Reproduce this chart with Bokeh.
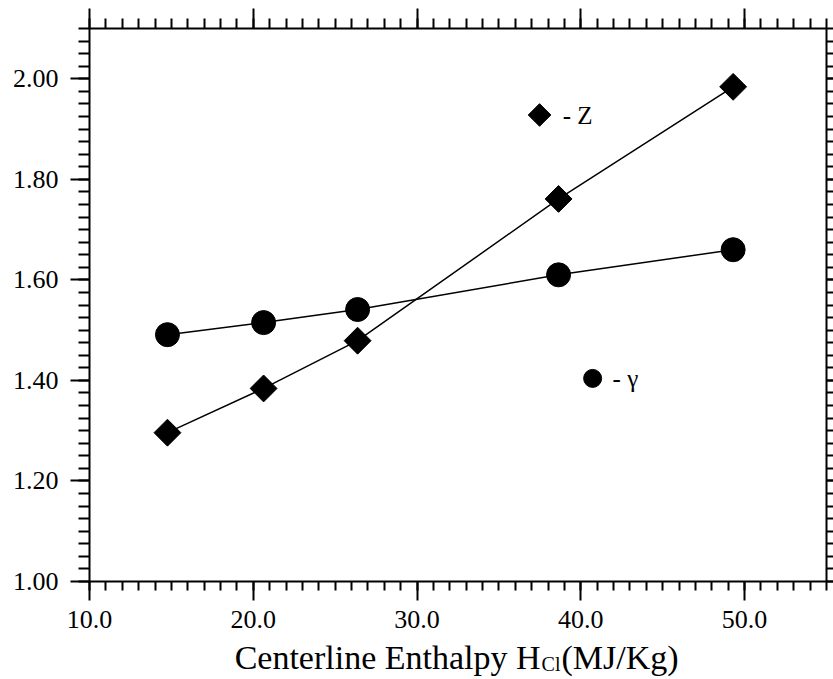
import numpy as np
from bokeh.plotting import figure
from bokeh.layouts import column
from bokeh.models import (LinearAxis, SingleIntervalTicker, PrintfTickFormatter,
                          Range1d, Label, ColumnDataSource)
from bokeh.embed import file_html
from bokeh.resources import INLINE

# ---- data ----
enthalpy = [14.76, 20.63, 26.37, 38.64, 49.30]
z_values = [1.296, 1.384, 1.479, 1.761, 1.984]
gamma_values = [1.491, 1.515, 1.541, 1.610, 1.660]

# in-plot key
key_z_marker = (37.48, 1.928)
key_z_text = (38.89, 1.926, "- Z")
key_g_marker = (40.72, 1.404)
key_g_text = (41.94, 1.404, "- \u03b3")

title_main = "Centerline Enthalpy H"
title_sub = "Cl"
title_unit = "(MJ/Kg)"
title_x = 37.54

FONT = "Times New Roman"

p = figure(width=833, height=640, output_backend="svg", toolbar_location=None,
           x_range=Range1d(10, 55), y_range=Range1d(1.0, 2.1),
           min_border_left=89, min_border_right=7, min_border_top=28,
           min_border_bottom=59, background_fill_color="white",
           border_fill_color="white", outline_line_color=None)
p.xgrid.visible = False
p.ygrid.visible = False

def style_axis(ax, ticker, tick_out, minor_out, labels=True):
    ax.ticker = ticker
    ax.axis_line_width = 2
    ax.axis_line_color = "black"
    ax.major_tick_line_width = 2
    ax.minor_tick_line_width = 2
    ax.major_tick_line_color = "black"
    ax.minor_tick_line_color = "black"
    ax.major_tick_in = 0
    ax.minor_tick_in = 0
    ax.major_tick_out = tick_out
    ax.minor_tick_out = minor_out
    ax.major_label_text_font = FONT
    ax.major_label_text_font_size = "26px"
    ax.major_label_text_color = "black"
    if not labels:
        ax.formatter = PrintfTickFormatter(format="")
        ax.major_label_standoff = 0

bx = p.xaxis[0]
style_axis(bx, SingleIntervalTicker(interval=10, num_minor_ticks=10), 19, 9)
bx.formatter = PrintfTickFormatter(format="%.1f")
bx.major_label_standoff = 10

ly = p.yaxis[0]
style_axis(ly, SingleIntervalTicker(interval=0.2, num_minor_ticks=8), 19, 11)
ly.formatter = PrintfTickFormatter(format="%.2f")
ly.major_label_standoff = 12

top = LinearAxis()
style_axis(top, SingleIntervalTicker(interval=10, num_minor_ticks=10), 20, 10, labels=False)
p.add_layout(top, "above")

right = LinearAxis()
style_axis(right, SingleIntervalTicker(interval=0.2, num_minor_ticks=8), 7, 7, labels=False)
p.add_layout(right, "right")

src = ColumnDataSource(dict(x=enthalpy, z=z_values, g=gamma_values))

p.line("x", "z", source=src, line_color="black", line_width=1.5)
p.line("x", "g", source=src, line_color="black", line_width=1.5)
p.scatter("x", "z", source=src, marker="square", angle=np.pi / 4, size=19,
          fill_color="black", line_color="black")
p.scatter("x", "g", source=src, marker="circle", size=24,
          fill_color="black", line_color="black")

# key
p.scatter([key_z_marker[0]], [key_z_marker[1]], marker="square", angle=np.pi / 4,
          size=16, fill_color="black", line_color="black")
p.scatter([key_g_marker[0]], [key_g_marker[1]], marker="circle", size=18,
          fill_color="black", line_color="black")
for (tx, ty, tt) in (key_z_text, key_g_text):
    p.add_layout(Label(x=tx, y=ty, text=tt, text_font=FONT, text_font_size="25px",
                       text_baseline="middle", text_align="left", text_color="black"))

# ---- axis title strip (shares the x range so positions line up) ----
t = figure(width=833, height=39, output_backend="svg", toolbar_location=None,
           x_range=p.x_range, y_range=Range1d(0, 39),
           x_axis_location=None, y_axis_location=None,
           min_border_left=89, min_border_right=7, min_border_top=0,
           min_border_bottom=0, outline_line_color=None,
           background_fill_color="white", border_fill_color="white")
t.xgrid.visible = False
t.ygrid.visible = False
base_y = 22
t.add_layout(Label(x=title_x, y=base_y, text=title_main, text_font=FONT,
                   text_font_size="34px", text_align="right",
                   text_baseline="alphabetic", text_color="black"))
t.add_layout(Label(x=title_x, y=base_y, text=title_sub, text_font=FONT,
                   text_font_size="20px", text_align="left", x_offset=1, y_offset=-6,
                   text_baseline="alphabetic", text_color="black"))
t.add_layout(Label(x=title_x, y=base_y, text=title_unit, text_font=FONT,
                   text_font_size="34px", text_align="left", x_offset=21,
                   text_baseline="alphabetic", text_color="black"))

layout = column(p, t, spacing=0)
open("out.html", "w").write(file_html(layout, INLINE))
